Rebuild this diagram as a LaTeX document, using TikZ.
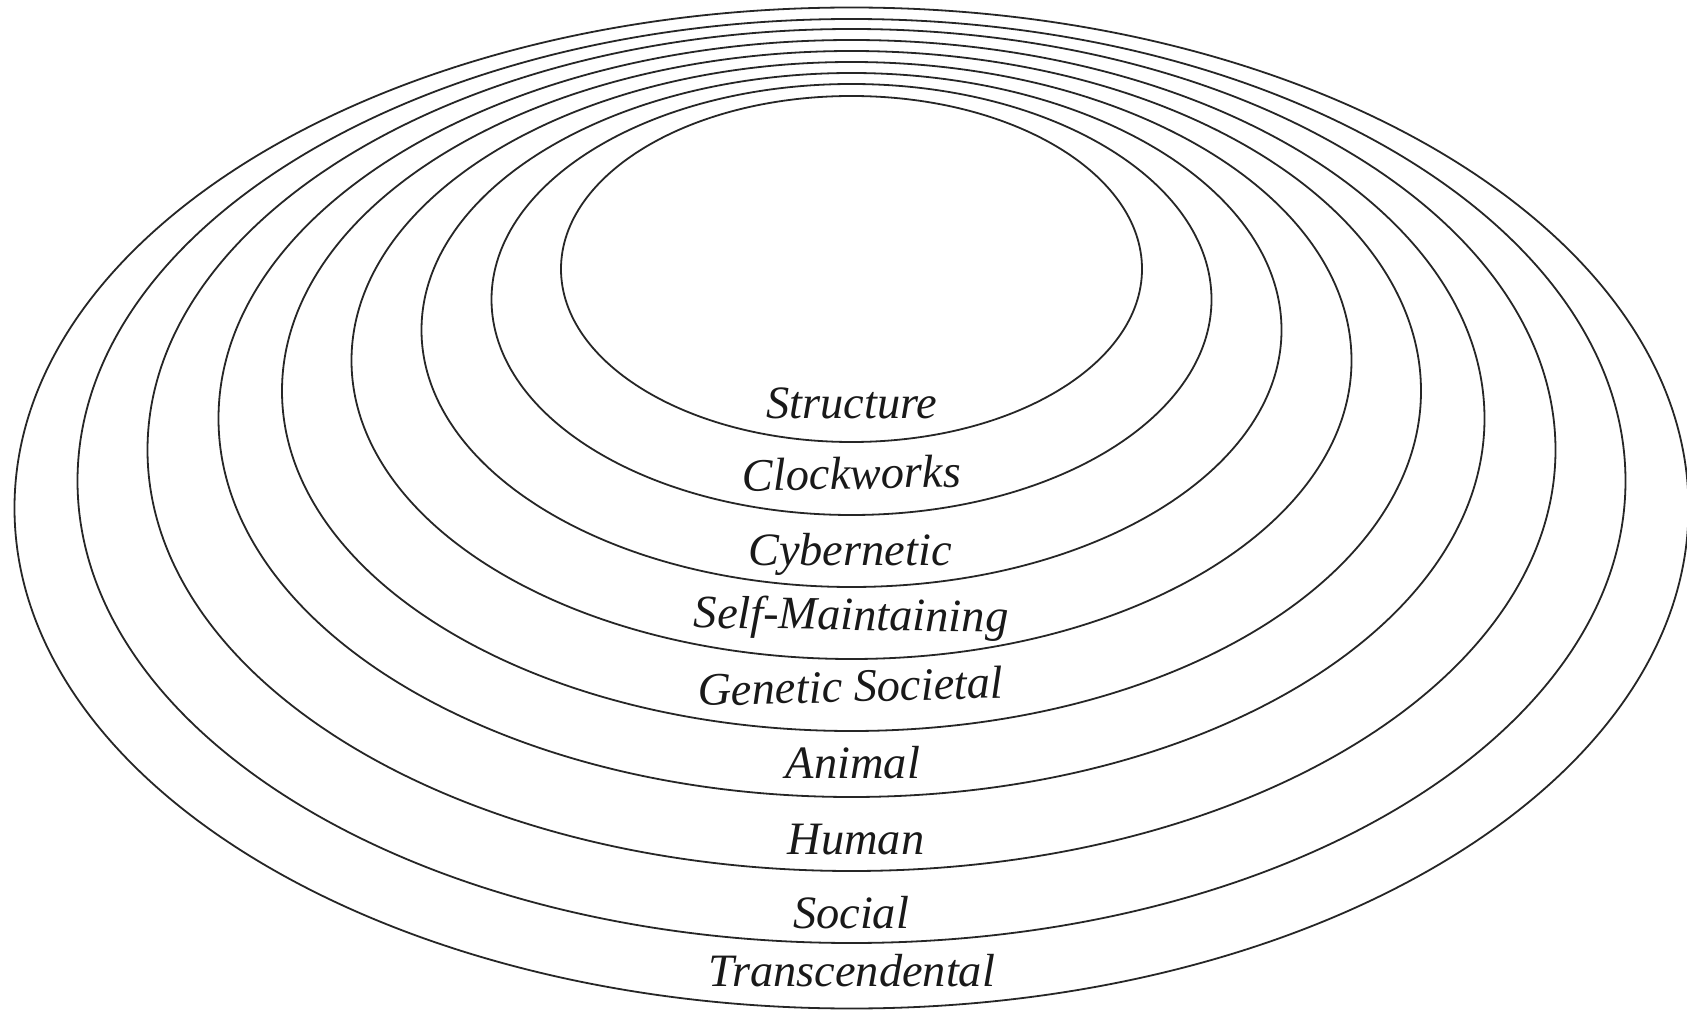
\documentclass[tikz,border=0pt]{standalone}
\usepackage{fontspec}
\setmainfont{Liberation Serif}
\begin{document}
\begin{tikzpicture}[x=0.5pt,y=-0.5pt,
  ring/.style={draw=black!85,line width=0.9pt},
  lbl/.style={anchor=base,inner sep=0pt,font=\fontsize{23.2}{27}\selectfont\itshape,text=black!90}]
\useasboundingbox[fill=white] (0,0) rectangle (1687,1010);
% rings (centre y, x radius, y radius)
\foreach \cy/\rx/\ry in {269/290.5/173, 299.5/360/215.5, 330/430/257, 360.5/500/298.5,
  391/569.5/340, 418.5/633/378.5, 450/704/421, 481/774/462, 508/837/500.5}
  \draw[ring] (851.5,\cy) ellipse [x radius=\rx, y radius=\ry];
\node[lbl] (structure) at (852,419) {Structure};
\node[lbl,rotate=1.2] (clockworks) at (852,489) {Clockworks};
\node[lbl] (cybernetic) at (850,566) {Cybernetic};
\node[lbl,rotate=-0.8] (selfmaint) at (851,630) {Self-Maintaining};
\node[lbl,rotate=1.5] (genetic) at (851,702) {Genetic Societal};
\node[lbl] (animal) at (853,778) {Animal};
\node[lbl] (human) at (856,854) {Human};
\node[lbl] (social) at (851,928) {Social};
\node[lbl] (transc) at (852,986) {Transcendental};
\end{tikzpicture}
\end{document}
